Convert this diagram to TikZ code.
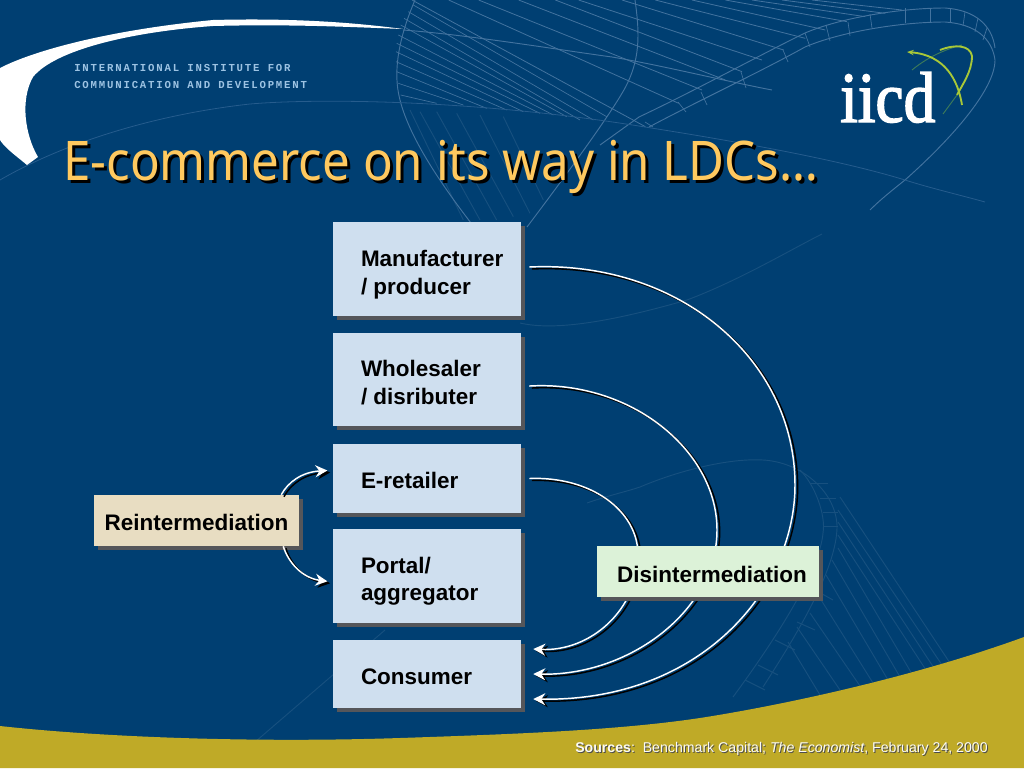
\documentclass[tikz,border=0pt]{standalone}
\usepackage{fontspec}
\setmainfont{Liberation Sans}
\newfontfamily\titlefont[FakeStretch=0.90]{Noto Sans}
\newfontfamily\headfont[LetterSpace=17]{Liberation Mono}
\newfontfamily\logofont[FakeStretch=0.88,FakeBold=2]{Liberation Serif}
\usetikzlibrary{arrows.meta,shadows,calc}
\definecolor{bgblue}{HTML}{003F72}
\definecolor{gold}{HTML}{BFAA27}
\definecolor{meshA}{HTML}{43739F}
\definecolor{meshB}{HTML}{265C8D}
\definecolor{meshC}{HTML}{17507F}
\definecolor{boxblue}{HTML}{CFDFEF}
\definecolor{boxtan}{HTML}{E8DDC2}
\definecolor{boxgreen}{HTML}{DCF2D8}
\definecolor{shadowgrey}{HTML}{55565A}
\definecolor{titlegold}{HTML}{FFC95F}
\definecolor{headblue}{HTML}{9DC3E3}
\definecolor{leafgreen}{HTML}{A8C838}
\definecolor{darkleaf}{HTML}{3C7A5A}
\newcommand\dropby[2]{\raisebox{0pt}[\dimexpr\height+#1+#1\relax]{#2}}
\newcommand\boxlabel[2]{\hspace*{21pt}\dropby{#1}{\parbox{120pt}{\raggedright #2}}}
\tikzset{
  stagebox/.style={draw=none,fill=#1,inner sep=0pt,text=black,
    font=\fontsize{16.85}{20.8}\selectfont\bfseries,
    drop shadow={shadow xshift=3pt,shadow yshift=-3pt,fill=shadowgrey,opacity=1}},
  wire/.style={draw=white,line width=1.1pt,-{Stealth[length=9pt,width=9pt,inset=3pt]},
    preaction={draw=black,line width=1.1pt,-{Stealth[length=9pt,width=9pt,inset=3pt]},
      transform canvas={xshift=2pt,yshift=-1.5pt}}},
  meshmain/.style={draw=meshA,line width=0.7pt},
  meshsoft/.style={draw=meshB,line width=0.6pt},
  meshfaint/.style={draw=meshC,line width=0.7pt}
}
\begin{document}
\begin{tikzpicture}[x=0.75pt,y=-0.75pt]
\useasboundingbox (0,0) rectangle (1024,768);
\fill[bgblue] (0,0) rectangle (1024,768);
% upper mesh
\foreach \a/\b/\c in {900/1170/30,810/1120/40,720/1060/50,640/1005/65,540/940/90,430/880/115,330/815/150,200/750/180,130/690/215,20/640/240,-100/570/270,-190/500/310,-300/400/380}
  \draw[meshmain,line width=0.6pt] ({512+\a/3},0) -- ({512+\b/3},{\c/3});
\foreach \x/\y/\p/\q in {100/15/680/350,85/35/640/360,72/55/600/360,62/75/560/350,55/105/520/345,50/130/480/340,48/155/430/335,48/185/380/330,50/215/320/325,55/250/250/315,62/285/170/310}
  \draw[meshmain,line width=0.5pt] ({380+\x/3},{\y/3}) -- ({380+\p/3},{\q/3});
\foreach \x/\y/\p/\q in {90/330/250/660,120/335/300/660,170/335/350/660,230/340/400/650,300/345/450/640,370/350/490/600}
  \draw[meshfaint] ({380+\x/3},{\y/3}) -- ({380+\p/3},{\q/3});
% mesh frame curves
\draw[meshmain] (415,0) .. controls (400,35) and (392,70) .. (400,100) .. controls (410,140) and (445,190) .. (478,232);
\draw[meshmain] (635,0) .. controls (640,35) and (640,60) .. (625,88) .. controls (612,112) and (570,170) .. (527,227);
\draw[meshmain] (600,145) -- (639,117) .. controls (700,88) and (760,55) .. (805,33) .. controls (840,18) and (900,8) .. (945,8) .. controls (975,10) and (992,25) .. (995,48);
\draw[meshmain] (649,127) .. controls (700,100) and (760,72) .. (805,47) .. controls (840,32) and (900,22) .. (945,22) .. controls (975,24) and (992,38) .. (995,60) .. controls (995,90) and (950,140) .. (905,180) .. controls (890,192) and (880,200) .. (870,210);
\foreach \x/\y/\p/\q in {645/122/653/127,678/102/686/112,701/92/707/105,741/72/746/88,783/50/788/62,805/33/810/47,826/25/830/41,848/22/850/36,870/14/872/28,905/8/905/23,930/8/930/22,950/8/950/22,965/12/963/26,978/18/975/32,987/28/983/40}
  \draw[meshmain,line width=0.5pt] (\x,\y) -- (\p,\q);
\draw[meshmain] (403,30) .. controls (470,35) and (560,50) .. (612,57) .. controls (660,65) and (720,80) .. (772,90);
\draw[meshsoft] (0,180) .. controls (60,145) and (150,115) .. (250,104) .. controls (320,98) and (480,100) .. (645,127) .. controls (740,142) and (840,160) .. (905,180) .. controls (930,188) and (960,195) .. (985,202);
% lower mesh
\draw[meshfaint] (520,323) .. controls (550,330) and (600,325) .. (687,300) .. controls (740,280) and (790,250) .. (822,234);
\draw[meshfaint] (587,503) .. controls (610,495) and (625,492) .. (640,487) .. controls (680,470) and (730,458) .. (763,460) .. controls (800,462) and (835,490) .. (837,525) .. controls (838,570) and (790,645) .. (763,687);
\draw[meshfaint] (800,470) .. controls (815,485) and (826,515) .. (823,533) .. controls (820,570) and (775,640) .. (733,697);
\foreach \x/\y/\p/\q in {840/497/950/663,838/510/942/665,838/522/934/668,838/535/926/670,838/548/912/674,832/560/900/677,826/575/888/680,818/595/873/683,810/613/860/686,797/627/840/690,788/642/820/695}
  \draw[meshfaint] (\x,\y) -- (\p,\q);
\foreach \x/\y/\p/\q in {810/483/828/483,820/498/836/498,823/512/838/512,823/526/838/526,815/590/833/600,797/622/815/630,775/640/795/650,758/665/778/675,745/680/765/690}
  \draw[meshfaint] (\x,\y) -- (\p,\q);
\draw[meshfaint] (385,630) -- (255,742);
% swoosh
\fill[white] (0,68) .. controls (35,50) and (110,30) .. (213,20) .. controls (290,18) and (350,22) .. (403,29) .. controls (350,27) and (290,24) .. (213,26) .. controls (130,32) and (55,50) .. (33,77) .. controls (20,100) and (25,135) .. (38,157) -- (27,165) .. controls (15,155) and (5,148) .. (0,140) -- cycle;
% gold band
\fill[gold] (0,726) .. controls (100,737) and (250,743) .. (400,738) .. controls (520,734) and (620,730) .. (700,718) .. controls (790,704) and (920,675) .. (1024,637) -- (1024,768) -- (0,768) -- cycle;
% header
\node[anchor=base west,inner sep=0pt,text=headblue,font=\headfont\fontsize{8}{8}\selectfont\bfseries] (headA) at (74,71) {INTERNATIONAL INSTITUTE FOR};
\node[anchor=base west,inner sep=0pt,text=headblue,font=\headfont\fontsize{8}{8}\selectfont\bfseries] (headB) at (74,88) {COMMUNICATION AND DEVELOPMENT};
% logo
\node[anchor=base west,inner sep=0pt,text=white,font=\logofont\fontsize{54}{54}\selectfont] (logo) at (840,122) {iicd};
\draw[darkleaf,line width=0.7pt] (912,70) .. controls (930,55) and (950,48) .. (962,45);
\draw[leafgreen,line width=1.4pt] (940,50) .. controls (955,44) and (970,45) .. (972,56) .. controls (972,72) and (962,85) .. (957,95);
\draw[darkleaf,line width=0.7pt] (957,95) -- (943,114);
\draw[leafgreen,line width=1.4pt,-{Stealth[length=5pt,width=4pt]}] (962,105) .. controls (958,80) and (945,55) .. (907,52);
% title
\node[anchor=base west,inner sep=0pt,text=black,font=\titlefont\fontsize{41}{42}\selectfont] (titleshadow) at (66,183) {E-commerce on its way in LDCs…};
\node[anchor=base west,inner sep=0pt,text=titlegold,font=\titlefont\fontsize{41}{42}\selectfont] (titletext) at (63,180) {E-commerce on its way in LDCs…};
% boxes
\node[stagebox=boxblue,minimum width=141pt,minimum height=70.5pt] (mfr) at (427,269) {\boxlabel{4pt}{Manufacturer\\/ producer}};
\node[stagebox=boxblue,minimum width=141pt,minimum height=70pt] (whl) at (427,379.5) {\boxlabel{2.25pt}{Wholesaler\\/ disributer}};
\node[stagebox=boxblue,minimum width=141pt,minimum height=52pt] (ret) at (427,478.5) {\boxlabel{1.5pt}{E-retailer}};
\node[stagebox=boxblue,minimum width=141pt,minimum height=70.5pt] (por) at (427,576) {\boxlabel{4pt}{Portal/\\aggregator}};
\node[stagebox=boxblue,minimum width=141pt,minimum height=51pt] (con) at (427,674) {\boxlabel{2.25pt}{Consumer}};
\node[stagebox=boxtan,minimum width=153.75pt,minimum height=38.25pt] (rei) at (196.5,520.5) {\dropby{1.5pt}{Reintermediation}};
% connectors
\draw[wire] ([xshift=6pt,yshift=1.5pt]mfr.east) .. controls (680,260) and (795,360) .. (795,485) .. controls (795,590) and (700,702) .. ([xshift=9pt,yshift=-18.75pt]con.east);
\draw[wire] ([xshift=6pt,yshift=-4.9pt]whl.east) .. controls (630,380) and (717,450) .. (717,530) .. controls (717,610) and (630,676) .. ([xshift=9pt]con.east);
\draw[wire] ([xshift=6pt]ret.east) .. controls (590,476) and (638,510) .. (638,555) .. controls (638,610) and (590,652) .. ([xshift=9pt,yshift=18.75pt]con.east);
\draw[wire] ([xshift=-13.5pt]rei.north east) .. controls (288,482) and (302,472) .. ([xshift=-4pt,yshift=6pt]ret.west);
\draw[wire] ([xshift=-12pt]rei.south east) .. controls (288,562) and (302,578) .. ([xshift=-4pt,yshift=-4pt]por.west);
\node[stagebox=boxgreen,minimum width=166.5pt,minimum height=38.25pt] (dis) at (708,571.5) {\hspace*{6pt}\dropby{2.25pt}{Disintermediation}};
% sources
\node[anchor=base west,inner sep=0pt,text=black!70,font=\fontsize{10.6}{12}\selectfont] (srcshadow) at (576,753) {\textbf{Sources}:\ \ Benchmark Capital; \textit{The Economist}, February 24, 2000};
\node[anchor=base west,inner sep=0pt,text=white!95!gold,font=\fontsize{10.6}{12}\selectfont] (srctext) at (575,752) {\textbf{Sources}:\ \ Benchmark Capital; \textit{The Economist}, February 24, 2000};
\end{tikzpicture}
\end{document}
